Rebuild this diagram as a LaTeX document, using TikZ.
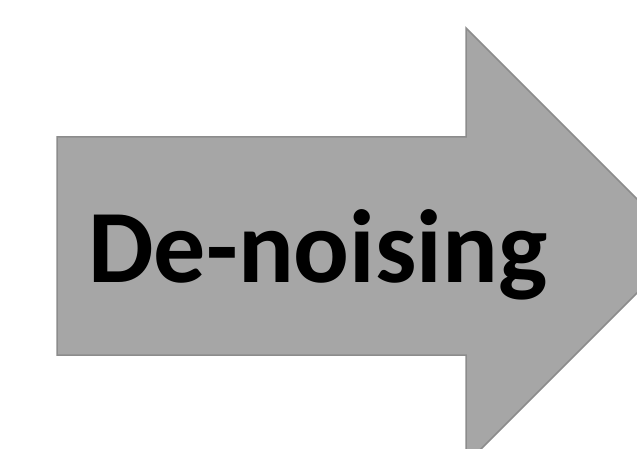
\documentclass[tikz,border=0pt]{standalone}
\usepackage{fontspec}
\setmainfont{Carlito}
\begin{document}
\begin{tikzpicture}[x=1pt,y=-1pt,
  arrowshape/.style={fill=arrowgray,draw=bordergray,line width=1.5pt,line join=miter},
  label/.style={font=\fontsize{104}{110}\selectfont\bfseries,text=black,inner sep=0pt,anchor=base}]
\definecolor{arrowgray}{HTML}{A6A6A6}
\definecolor{bordergray}{HTML}{8C8C8C}
\useasboundingbox (0,0) rectangle (637,449);
\clip (0,0) rectangle (637,449);
\path[arrowshape] (57,137) -- (466,137) -- (466,28) -- (684,246) -- (466,464) -- (466,355) -- (57,355) -- cycle;
\node[label] (t) at (318,282) {De-noising};
\end{tikzpicture}
\end{document}
